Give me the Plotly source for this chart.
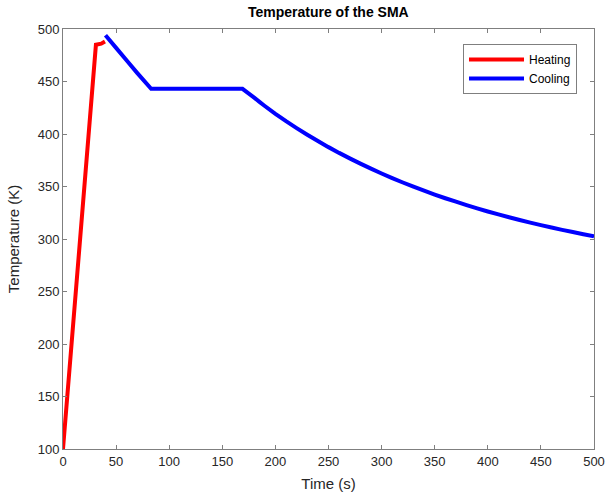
import plotly.graph_objects as go

heat_t = [0, 31, 36, 39.5]
heat_T = [100, 485, 486, 488]

cool_t = [40, 50, 60, 70, 83, 100, 120, 140, 169,
          175, 180, 185, 190, 200, 210, 220, 230, 240, 250, 260, 270, 280, 290, 300,
          310, 320, 330, 340, 350, 360, 370, 380, 390, 400,
          410, 420, 430, 440, 450, 460, 470, 480, 490, 500]
cool_T = [494, 482, 470, 458, 443, 443, 443, 443, 443,
          438.5, 434.6, 430.6, 426.7, 419.2, 412.2, 405.6, 399.3, 393.3, 387.5, 382, 376.8, 371.8, 367, 362.4,
          358, 353.8, 349.8, 346, 342.3, 338.8, 335.5, 332.3, 329.2, 326.2,
          323.4, 320.7, 318.1, 315.6, 313.2, 310.9, 308.7, 306.6, 304.5, 302.5]

fig = go.Figure()
fig.add_trace(go.Scatter(x=heat_t, y=heat_T, mode="lines", name="Heating",
                         line=dict(color="#ff0000", width=4, simplify=False)))
fig.add_trace(go.Scatter(x=cool_t, y=cool_T, mode="lines", name="Cooling",
                         line=dict(color="#0000ff", width=4, simplify=False)))

font = "Liberation Sans, Arial, sans-serif"
axis_common = dict(showline=True, linecolor="#7f7f7f", linewidth=1, mirror="ticks",
                   ticks="inside", ticklen=4, tickcolor="#7f7f7f", showgrid=False,
                   zeroline=False, automargin=False,
                   tickfont=dict(family=font, size=13, color="#262626"))
fig.update_layout(
    template="none",
    width=608, height=501,
    margin=dict(l=63, r=14, t=29, b=52),
    paper_bgcolor="white", plot_bgcolor="white",
    title=dict(text="<b>Temperature of the SMA</b>", x=0.54, xanchor="center",
               y=0.985, yanchor="top", font=dict(family=font, size=14, color="black")),
    xaxis=dict(range=[0, 500], tickvals=list(range(0, 501, 50)),
               title=dict(text="Time (s)", font=dict(family=font, size=15, color="#262626"), standoff=10),
               **axis_common),
    yaxis=dict(range=[100, 500], tickvals=list(range(100, 501, 50)),
               title=dict(text="Temperature (K)", font=dict(family=font, size=15, color="#262626"), standoff=14),
               **axis_common),
    legend=dict(x=0.968, y=0.964, xanchor="right", yanchor="top",
                bgcolor="white", bordercolor="#7f7f7f", borderwidth=1,
                font=dict(family=font, size=12, color="black"),
                tracegroupgap=0, itemwidth=55),
    showlegend=True,
)
fig.write_html("out.html")
